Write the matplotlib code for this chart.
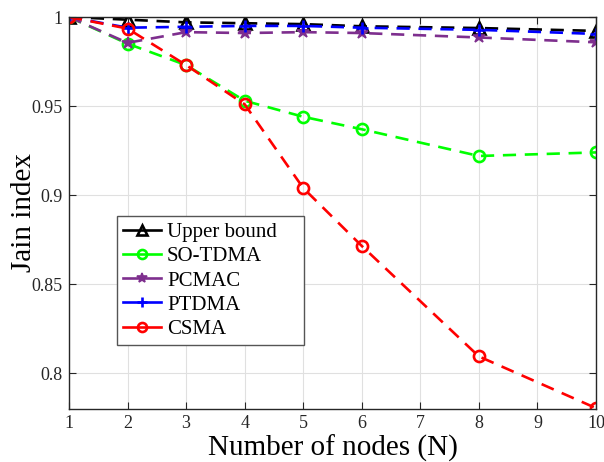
import numpy as np
import matplotlib.pyplot as plt
from matplotlib.lines import Line2D

plt.rcParams["font.family"] = ["Liberation Serif", "DejaVu Serif"]

nodes = [1, 2, 3, 4, 5, 6, 8, 10]
upper_bound = [1.0, 0.9985, 0.997, 0.9965, 0.996, 0.9948, 0.9938, 0.9922]
so_tdma = [1.0, 0.985, 0.973, 0.953, 0.944, 0.937, 0.922, 0.924]
pcmac = [1.0, 0.9855, 0.9915, 0.991, 0.9915, 0.991, 0.9885, 0.9858]
ptdma = [1.0, 0.994, 0.9945, 0.995, 0.995, 0.994, 0.9928, 0.9905]
csma = [1.0, 0.9935, 0.973, 0.951, 0.904, 0.8715, 0.8095, 0.7805]

yticks = [0.8, 0.85, 0.9, 0.95, 1.0]
ytick_labels = ["0.8", "0.85", "0.9", "0.95", "1"]

# label, values, color, marker, marker size, filled
series = [
    ("Upper bound", upper_bound, "black", "^", 8, False),
    ("SO-TDMA", so_tdma, "#00ff00", "o", 8, False),
    ("PCMAC", pcmac, "#7e2f8e", "*", 9, True),
    ("PTDMA", ptdma, "blue", "+", 9, True),
    ("CSMA", csma, "red", "o", 8, False),
]

fig = plt.figure(figsize=(6.04, 4.62), dpi=100)
ax = fig.add_axes([69 / 604, 53 / 462, 527 / 604, 392 / 462])

lw = 1.9
handles = []
for name, vals, c, m, ms, filled in series:
    mfc = c if filled else "none"
    mew = 1.2 if m == "*" else 1.9
    ax.plot(nodes, vals, color=c, ls=(0, (5, 3.3)), marker=m, ms=ms, mfc=mfc,
            mew=mew, lw=lw)
    # legend shows solid line with smaller marker
    handles.append(Line2D([], [], color=c, ls="-", marker=m, ms=ms - 1.5,
                          mfc=mfc, mew=mew, lw=lw))

ax.set_xlim(1, 10)
ax.set_ylim(0.78, 1.0)
ax.set_xticks(range(1, 11))
ax.set_yticks(yticks)
ax.set_yticklabels(ytick_labels)
ax.tick_params(direction="in", labelsize=13, length=5, top=True, right=True,
               colors="#262626", pad=4.5)
ax.grid(True, color="#e0e0e0", lw=0.8)
ax.set_axisbelow(True)
for s in ax.spines.values():
    s.set_color("#262626")
    s.set_linewidth(1)

ax.set_xlabel("Number of nodes (N)", fontsize=21, labelpad=1.5)
ax.set_ylabel("Jain index", fontsize=21, labelpad=-4)

labels = [s[0] for s in series]
labels[0] = labels[0] + "    "
leg = ax.legend(handles, labels, loc="lower left",
                bbox_to_anchor=(0.091, 0.163), fontsize=15,
                fancybox=False, edgecolor="#555555", framealpha=1,
                handlelength=1.8, borderpad=0.3, labelspacing=0.22,
                handletextpad=0.3, borderaxespad=0)
leg.get_frame().set_linewidth(1)

fig.savefig("out.png", dpi=100)
